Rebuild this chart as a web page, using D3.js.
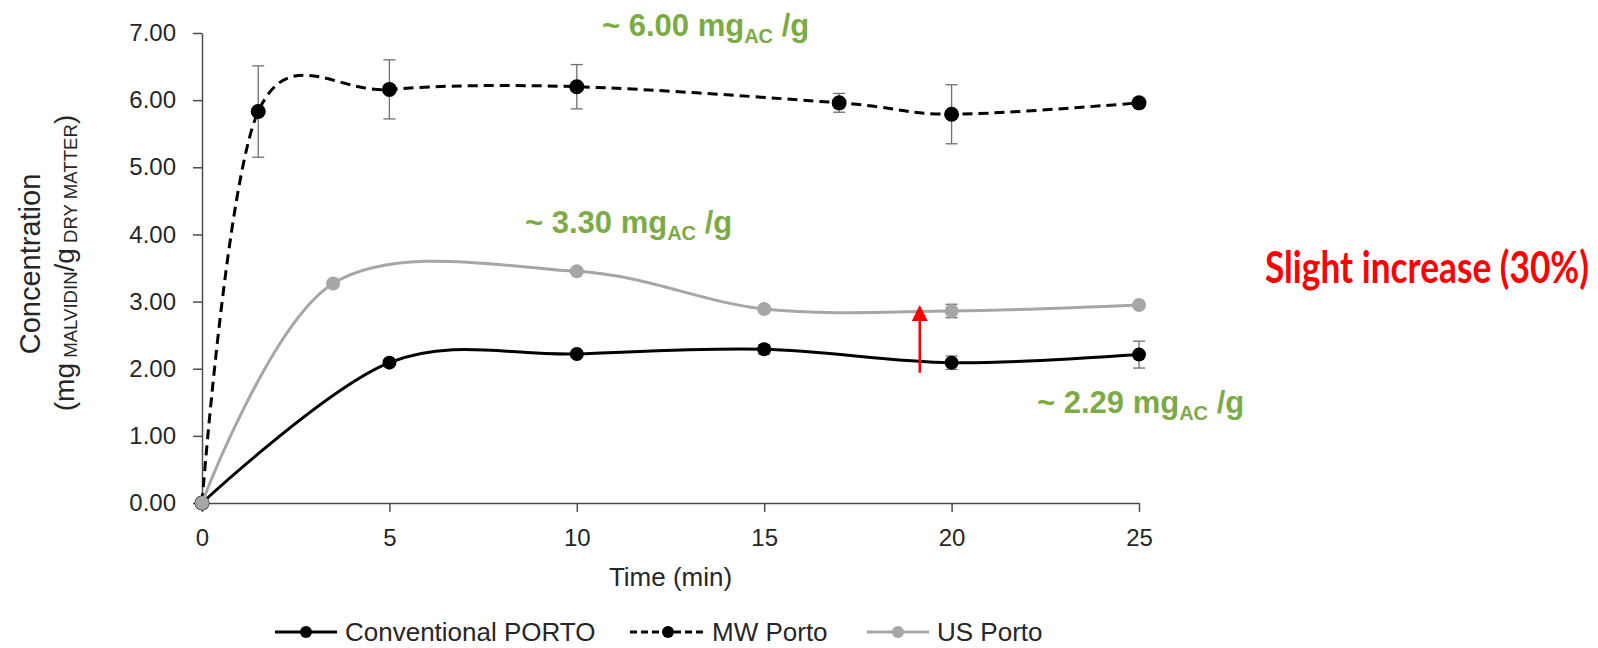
<!DOCTYPE html>
<html>
<head>
<meta charset="utf-8">
<script src="https://cdn.jsdelivr.net/npm/d3@7"></script>
<style>
  body { margin: 0; background: #fff; }
  text { font-family: "Liberation Sans", Arial, sans-serif; }
</style>
</head>
<body>
<div id="chart"></div>
<script>
// data
const seriesNames = ["Conventional PORTO", "MW Porto", "US Porto"];

const convTime = [0, 5, 10, 15, 20, 25];
const convValue = [0, 2.09, 2.22, 2.29, 2.09, 2.21];
const convErr = [0, 0.04, 0.03, 0.07, 0.10, 0.20];

const mwTime = [0, 1.5, 5, 10, 17, 20, 25];
const mwValue = [0, 5.83, 6.16, 6.20, 5.96, 5.79, 5.96];
const mwErr = [0, 0.68, 0.44, 0.33, 0.14, 0.44, 0];

const usTime = [0, 3.5, 10, 15, 20, 25];
const usValue = [0, 3.27, 3.45, 2.89, 2.86, 2.95];
const usErr = [0, 0.04, 0.03, 0.04, 0.10, 0.03];

const yTicks = [0, 1, 2, 3, 4, 5, 6, 7];
const xTicks = [0, 5, 10, 15, 20, 25];

// green notes: [main text, subscript, tail]
const notes = [
  ["~ 6.00 mg", "AC", " /g"],
  ["~ 3.30 mg", "AC", " /g"],
  ["~ 2.29 mg", "AC", " /g"]
];
const arrowTime = 19.15, arrowFrom = 1.94, arrowTo = 2.95;

const W = 1598, H = 648;
const margin = {top: 33, right: 459, bottom: 145, left: 202};
const width = W - margin.left - margin.right,
      height = H - margin.top - margin.bottom;

const svg = d3.select("#chart").append("svg")
  .attr("width", W).attr("height", H);

const g = svg.append("g")
  .attr("transform", "translate(" + margin.left + "," + margin.top + ")");

const x = d3.scaleLinear().domain([0, 25]).range([0, width]);
const y = d3.scaleLinear().domain([0, 7]).range([height, 0]);

// axes
const yAxis = g.append("g")
  .call(d3.axisLeft(y).tickValues(yTicks).tickFormat(d3.format(".2f"))
    .tickSize(9).tickSizeOuter(0).tickPadding(17));
const xAxis = g.append("g")
  .attr("transform", "translate(0," + height + ")")
  .call(d3.axisBottom(x).tickValues(xTicks).tickSize(9).tickSizeOuter(0).tickPadding(17));

[yAxis, xAxis].forEach(a => {
  a.select(".domain").attr("stroke", "#4d4d4d").attr("stroke-width", 1.5);
  a.selectAll(".tick line").attr("stroke", "#4d4d4d").attr("stroke-width", 1.5);
  a.selectAll(".tick text").attr("fill", "#262626").style("font-size", "24px");
});

// axis titles
g.append("text")
  .attr("x", width / 2).attr("y", 553)
  .attr("text-anchor", "middle")
  .style("font-size", "26px").attr("fill", "#262626")
  .text("Time (min)");

svg.append("text")
  .attr("transform", "translate(40,264) rotate(-90)")
  .attr("text-anchor", "middle")
  .style("font-size", "29px").attr("fill", "#262626")
  .text("Concentration");

const t2 = svg.append("text")
  .attr("transform", "translate(74,263) rotate(-90)")
  .attr("text-anchor", "middle")
  .attr("fill", "#262626");
t2.append("tspan").style("font-size", "28px").text("(mg");
t2.append("tspan").style("font-size", "18.6px").attr("dy", 3).text(" MALVIDIN");
t2.append("tspan").style("font-size", "28px").attr("dy", -3).text("/g");
t2.append("tspan").style("font-size", "18.6px").attr("dy", 3).text(" DRY MATTER");
t2.append("tspan").style("font-size", "28px").attr("dy", -3).text(")");

// series
const series = [
  {name: seriesNames[0], t: convTime, v: convValue, e: convErr, color: "#000", dash: null, r: 7},
  {name: seriesNames[1], t: mwTime, v: mwValue, e: mwErr, color: "#000", dash: "10,6", r: 7.5},
  {name: seriesNames[2], t: usTime, v: usValue, e: usErr, color: "#a6a6a6", dash: null, r: 7}
];

const line = d3.line()
  .x(d => x(d[0])).y(d => y(d[1]))
  .curve(d3.curveCardinal.tension(0));

series.forEach(s => {
  const pts = s.t.map((t, i) => [t, s.v[i], s.e[i]]);
  const eb = g.append("g");
  pts.filter(p => p[2] > 0).forEach(p => {
    const cx = x(p[0]), y1 = y(p[1] + p[2]), y2 = y(p[1] - p[2]);
    eb.append("line").attr("x1", cx).attr("x2", cx).attr("y1", y1).attr("y2", y2);
    eb.append("line").attr("x1", cx - 6).attr("x2", cx + 6).attr("y1", y1).attr("y2", y1);
    eb.append("line").attr("x1", cx - 6).attr("x2", cx + 6).attr("y1", y2).attr("y2", y2);
  });
  eb.selectAll("line").attr("stroke", "#6f6f6f").attr("stroke-width", 1.3);

  g.append("path").datum(pts)
    .attr("d", line)
    .attr("fill", "none")
    .attr("stroke", s.color)
    .attr("stroke-width", 3)
    .attr("stroke-dasharray", s.dash);

  g.append("g").selectAll("circle").data(pts).enter().append("circle")
    .attr("cx", d => x(d[0])).attr("cy", d => y(d[1]))
    .attr("r", s.r).attr("fill", s.color);
});

// red arrow
const ax = x(arrowTime), ay1 = y(arrowFrom), ay2 = y(arrowTo);
g.append("line")
  .attr("x1", ax).attr("x2", ax).attr("y1", ay1).attr("y2", ay2 + 14)
  .attr("stroke", "#ff0000").attr("stroke-width", 2.5);
g.append("path")
  .attr("d", "M" + ax + "," + ay2 + "L" + (ax - 8) + "," + (ay2 + 16) + "L" + (ax + 8) + "," + (ay2 + 16) + "Z")
  .attr("fill", "#ff0000");

// green notes
const notePos = [[602, 36], [525, 233], [1037, 413]];
notes.forEach((n, i) => {
  const t = svg.append("text")
    .attr("x", notePos[i][0]).attr("y", notePos[i][1])
    .attr("fill", "#7aab45").style("font-weight", "bold");
  t.append("tspan").style("font-size", "31px").text(n[0]);
  t.append("tspan").style("font-size", "20px").attr("dy", 7).text(n[1]);
  t.append("tspan").style("font-size", "31px").attr("dy", -7).text(n[2]);
});

// red note, squeezed sideways to a Calibri-like width
const red = svg.append("text")
  .attr("fill", "#ff0000")
  .style("font-family", "Lato, 'Open Sans', sans-serif")
  .style("font-weight", "bold").style("font-size", "43px")
  .text("Slight increase (30%)");
const sx = Math.min(1, 324 / red.node().getComputedTextLength());
red.attr("transform", "translate(1265,283) scale(" + sx + ",1)");

// legend
const legX = [275, 630, 867];
const legend = svg.append("g");
series.forEach((s, i) => {
  const lg = legend.append("g").attr("transform", "translate(" + legX[i] + ",632)");
  lg.append("line").attr("x1", 0).attr("x2", i === 1 ? 76 : 62)
    .attr("stroke", s.color).attr("stroke-width", 3)
    .attr("stroke-dasharray", i === 1 ? "7,4" : null);
  lg.append("circle").attr("cx", i === 1 ? 38 : 31).attr("r", 6).attr("fill", s.color);
  lg.append("text").attr("x", i === 1 ? 82 : 70).attr("dy", "0.35em")
    .style("font-size", "26px").attr("fill", "#262626")
    .text(s.name);
});
</script>
</body>
</html>
